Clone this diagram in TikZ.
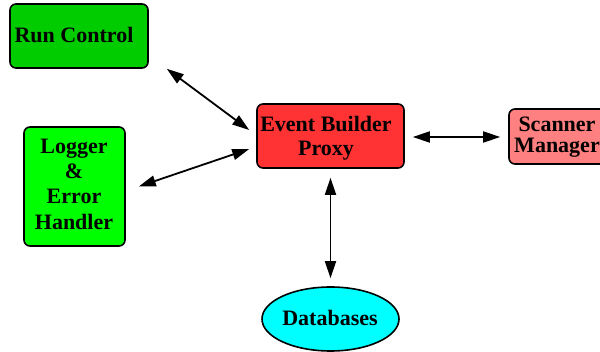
\documentclass[tikz,border=0pt]{standalone}
\usepackage{fontspec}
\setmainfont{Liberation Serif}
\usetikzlibrary{arrows.meta,shapes.geometric,calc}
\definecolor{rcgreen}{HTML}{00CC00}
\definecolor{lggreen}{HTML}{00FF00}
\definecolor{ebred}{HTML}{FF3333}
\definecolor{smpink}{HTML}{FF8080}
\definecolor{dbcyan}{HTML}{00FFFF}
\begin{document}
\begin{tikzpicture}[x=1pt,y=-1pt,
  box/.style={draw=black, line width=1.6pt, rounded corners=6pt, inner sep=0pt},
  lbl/.style={font=\bfseries\fontsize{22}{25}\selectfont, align=center, inner sep=0pt},
  tip/.tip={Triangle[length=17pt,width=11pt]},
  link/.style={line width=1.8pt, tip-tip}]
\useasboundingbox (0,0) rectangle (600,352);
% boxes
\node[box, fill=rcgreen, minimum width=138, minimum height=64] (rc) at (79,36) {};
\node[lbl] (rct) at (74,35) {Run Control};
\node[box, fill=lggreen, minimum width=101, minimum height=119] (lg) at (74.5,186.5) {};
\node[lbl, font=\bfseries\fontsize{22}{25.3}\selectfont] (lgt) at (74,184) {Logger\\\&\\Error\\Handler};
\node[box, fill=ebred, minimum width=147, minimum height=64] (ebp) at (330.5,136) {};
\node[lbl, font=\bfseries\fontsize{22}{24}\selectfont] (ebpt) at (326,138) {Event Builder\\Proxy};
\node[box, fill=smpink, minimum width=98, minimum height=55] (sm) at (558,136.5) {};
\node[lbl, font=\bfseries\fontsize{22}{21}\selectfont] (smt) at (557,137) {Scanner\\Manager};
\node[ellipse, draw=black, line width=1.6pt, fill=dbcyan, minimum width=137, minimum height=64, inner sep=0pt] (db) at (330.5,319) {};
\node[lbl] (dbt) at (330,318) {Databases};
% connectors
\draw[link] ($(rc.south east)+(18,0)$) -- ($(ebp.west)+(-7,-6)$);
\draw[link] ($(lg.east)+(13,0)$) -- ($(ebp.west)+(-7,13)$);
\draw[link] ($(ebp.east)+(8,1)$) -- ($(sm.west)+(-8,0.5)$);
\draw[link] ($(ebp.south)+(0,9)$) -- ($(db.north)+(0,-8)$);
\end{tikzpicture}
\end{document}
